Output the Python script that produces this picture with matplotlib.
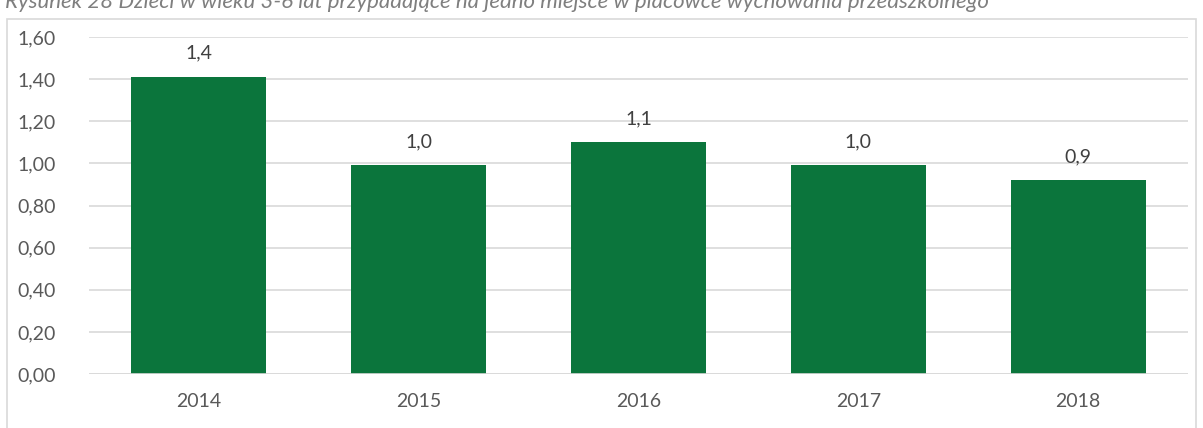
import matplotlib
matplotlib.use('Agg')
import matplotlib.pyplot as plt
from matplotlib.patches import Rectangle

# dane
years = ['2014', '2015', '2016', '2017', '2018']
values = [1.41, 0.99, 1.10, 0.99, 0.92]
labels = ['1,4', '1,0', '1,1', '1,0', '0,9']
yticks = [0.0, 0.2, 0.4, 0.6, 0.8, 1.0, 1.2, 1.4, 1.6]

plt.rcParams['font.family'] = ['Lato', 'DejaVu Sans']
W, H = 1203, 428
fig = plt.figure(figsize=(W / 100, H / 100), dpi=100)

# ramka wykresu
fig.patches.append(Rectangle((7 / W, -0.1), (1196 - 7) / W, (H - 19) / H + 0.1,
                             transform=fig.transFigure, fill=False,
                             edgecolor='#d9d9d9', linewidth=1.2))

# podpis (ucięty u góry, jak w oryginale)
fig.text(5 / W, 1 - 2 / H, 'Rysunek 28 Dzieci w wieku 3-6 lat przypadające na jedno miejsce '
         'w placówce wychowania przedszkolnego',
         ha='left', va='center', style='italic', fontsize=16, color='#7f7f7f')

ax = fig.add_axes([89 / W, 1 - 374 / H, (1188 - 89) / W, (374 - 37) / H])
x = range(len(years))
ax.bar(x, values, width=0.615, color='#0b753c', zorder=3)
for i, (v, lab) in enumerate(zip(values, labels)):
    ax.annotate(lab, (i, v), xytext=(0, 11), textcoords='offset points',
                ha='center', va='bottom', fontsize=14, color='#404040')

ax.set_xlim(-0.5, len(years) - 0.5)
ax.set_ylim(0, 1.6)
ax.set_yticks(yticks)
ax.set_yticklabels([('%.2f' % t).replace('.', ',') for t in yticks])
ax.set_xticks(list(x))
ax.set_xticklabels(years)
ax.tick_params(axis='both', length=0, labelsize=14, colors='#595959')
ax.tick_params(axis='y', pad=24)
ax.tick_params(axis='x', pad=14)
ax.grid(axis='y', color='#d9d9d9', linewidth=1.2, zorder=0)
for s in ax.spines.values():
    s.set_visible(False)
ax.axhline(0, color='#d9d9d9', linewidth=1.2, zorder=4)

fig.savefig('out.png', dpi=100)
